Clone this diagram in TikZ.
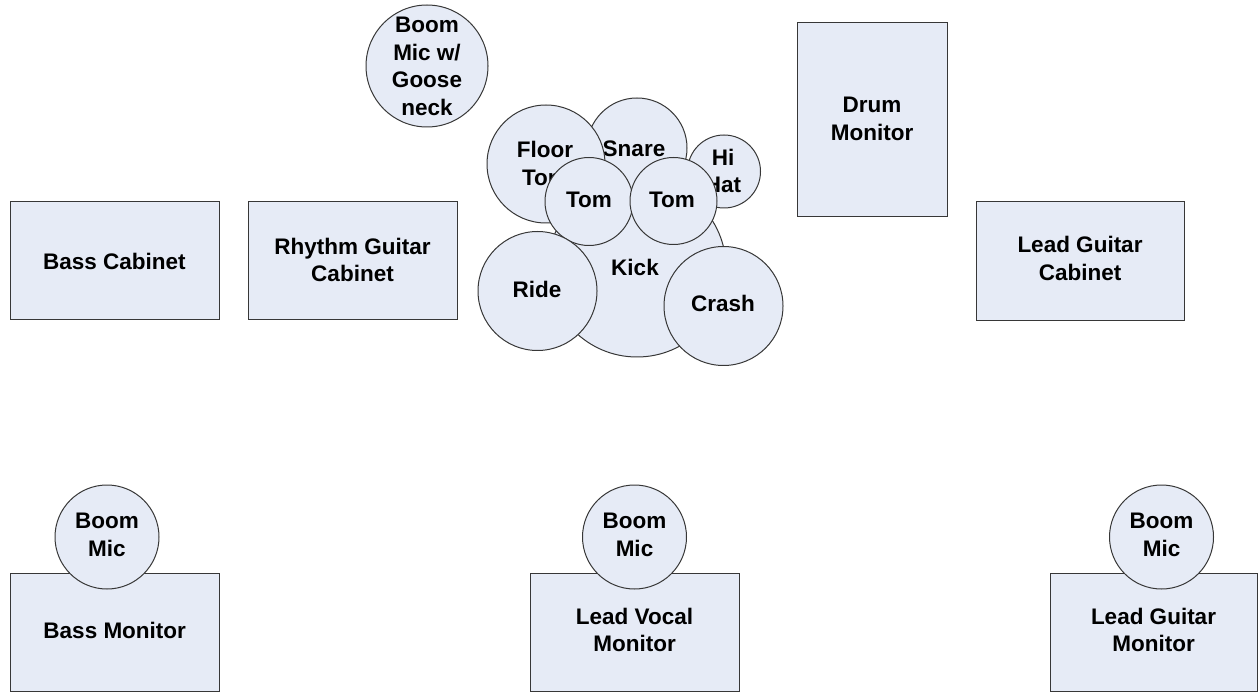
\documentclass[tikz,border=0pt]{standalone}
\usepackage{fontspec}
\setmainfont{Liberation Sans}
\definecolor{fillc}{RGB}{230,235,246}
\definecolor{linec}{RGB}{55,55,55}
\newcommand{\lblfont}{\fontsize{22.5}{27.5}\selectfont\bfseries}
\tikzset{
  base/.style={draw=linec, fill=fillc, line width=1pt},
  box/.style={base, rectangle, inner sep=0pt},
  drum/.style={base, circle, inner sep=0pt},
  txt/.style={font=\lblfont, align=center, inner sep=0pt, text=black},
}
\begin{document}
\begin{tikzpicture}[x=1pt,y=-1pt]
\useasboundingbox (0,0) rectangle (1258,692);

% cabinets and monitors
\node[box, minimum width=209pt, minimum height=118pt] (basscab) at (114.5,261) {};
\node[txt] (basscabt) at (basscab) {Bass Cabinet};
\node[box, minimum width=209pt, minimum height=118pt] (rhycab) at (352.5,261) {};
\node[txt] (rhycabt) at (352.5,260) {Rhythm Guitar\\Cabinet};
\node[box, minimum width=150pt, minimum height=194pt] (drummon) at (872,120) {};
\node[txt] (drummont) at (872,119) {Drum\\Monitor};
\node[box, minimum width=208pt, minimum height=119pt] (leadcab) at (1080,261.5) {};
\node[txt] (leadcabt) at (1080,258.5) {Lead Guitar\\Cabinet};

\node[box, minimum width=209pt, minimum height=118pt] (bassmon) at (114.75,632) {};
\node[txt] (bassmont) at (114.75,630) {Bass Monitor};
\node[box, minimum width=209pt, minimum height=118pt] (vocmon) at (634.5,632) {};
\node[txt] (vocmont) at (634.5,630) {Lead Vocal\\Monitor};
\node[box, minimum width=207pt, minimum height=118pt] (leadmon) at (1153.5,632) {};
\node[txt] (leadmont) at (1153.5,630) {Lead Guitar\\Monitor};

% boom mics
\node[drum, minimum size=104pt] (mic1) at (107,537) {};
\node[txt] (mic1t) at (107,535) {Boom\\Mic};
\node[drum, minimum size=104pt] (mic2) at (634.5,537) {};
\node[txt] (mic2t) at (634.5,535) {Boom\\Mic};
\node[drum, minimum size=104pt] (mic3) at (1161.5,537) {};
\node[txt] (mic3t) at (1161.5,535) {Boom\\Mic};

\node[drum, minimum size=122pt] (goose) at (427,66) {};
\node[txt] (gooset) at (427,66.5) {Boom\\Mic w/\\Goose\\neck};

% drum kit
\node[drum, minimum size=178pt] (kick) at (637,268) {};
\node[txt] (kickt) at (635,267) {Kick};
\node[drum, minimum size=100pt] (snare) at (637,148) {};
\node[txt] (snaret) at (634,149) {Snare};
\node[drum, minimum size=118pt] (floor) at (546,164) {};
\node[txt] (floort) at (545,163.5) {Floor\\Tom};
\node[drum, minimum size=73pt] (hihat) at (724,171.5) {};
\node[txt] (hihatt) at (723,171) {Hi\\Hat};
\node[drum, minimum size=88pt] (tom1) at (589,201.5) {};
\node[txt] (tom1t) at (589,200) {Tom};
\node[drum, minimum size=87pt] (tom2) at (673.5,201) {};
\node[txt] (tom2t) at (672,200) {Tom};
\node[drum, minimum size=119pt] (ride) at (537.5,291) {};
\node[txt] (ridet) at (537,289) {Ride};
\node[drum, minimum size=119pt] (crash) at (723.5,306) {};
\node[txt] (crasht) at (723,303) {Crash};
\end{tikzpicture}
\end{document}
